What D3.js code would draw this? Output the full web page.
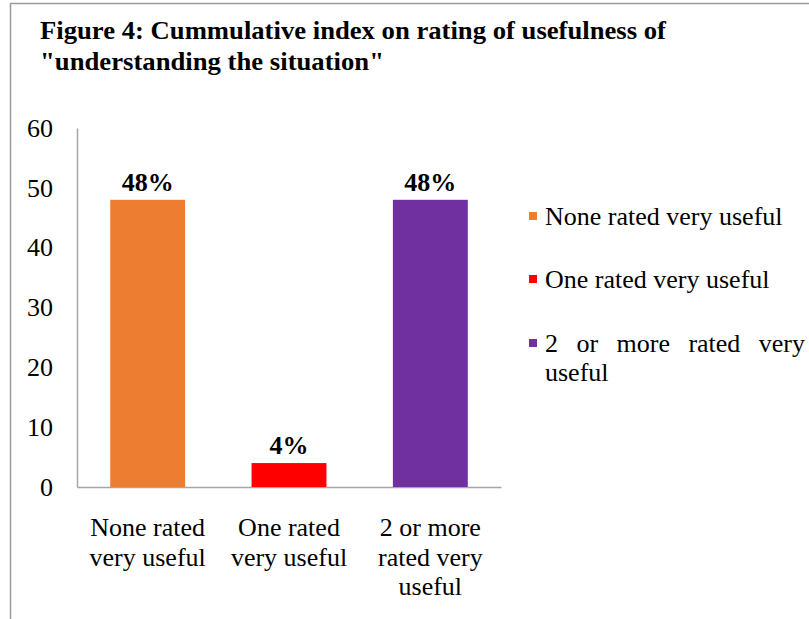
<!DOCTYPE html>
<html>
<head>
<meta charset="utf-8">
<script src="https://cdn.jsdelivr.net/npm/d3@7"></script>
<style>
  html, body { margin: 0; padding: 0; background: #fff; }
  svg { display: block; }
</style>
</head>
<body>
<svg id="chart" width="809" height="619"></svg>
<script>
// Chart data
const categories = ["None rated very useful", "One rated very useful", "2 or more rated very useful"];
const values = [48, 4, 48];
const valueLabels = ["48%", "4%", "48%"];
const axisLabelLines = [["None rated", "very useful"], ["One rated", "very useful"], ["2 or more", "rated very", "useful"]];
const colors = ["#ED7D31", "#FF0000", "#7030A0"];
const yTicks = [0, 10, 20, 30, 40, 50, 60];
const titleLines = ["Figure 4: Cummulative index on rating of usefulness of", "\"understanding the situation\""];

const svg = d3.select("#chart");
const serif = "'Liberation Serif', 'Times New Roman', serif";
const fs = 26;

// frame lines (top and left)
svg.append("line").attr("x1", 10).attr("x2", 809).attr("y1", 3.5).attr("y2", 3.5)
  .attr("stroke", "#9a9a9a").attr("stroke-width", 1.5);
svg.append("line").attr("x1", 10.5).attr("x2", 10.5).attr("y1", 3).attr("y2", 619)
  .attr("stroke", "#9a9a9a").attr("stroke-width", 1.5);

// title
const title = svg.append("g").attr("font-family", serif).attr("font-weight", "bold")
  .attr("font-size", 25).attr("fill", "#000");
const titleWidths = [626, 344];
titleLines.forEach((t, i) => {
  const el = title.append("text").attr("x", 40).attr("y", 39 + i * 31).text(t);
  el.attr("textLength", titleWidths[i]).attr("lengthAdjust", "spacingAndGlyphs");
});

// scales
const x = d3.scaleBand().domain(categories).range([77, 501]).paddingInner(0.47).paddingOuter(0.235);
const y = d3.scaleLinear().domain([0, 60]).range([487, 128]);

// y axis
const yAxis = svg.append("g").attr("transform", "translate(77,0)")
  .call(d3.axisLeft(y).tickValues(yTicks).tickSize(0).tickPadding(24).tickFormat(d3.format("d")));
yAxis.select(".domain").attr("stroke", "#a6a6a6").attr("stroke-width", 1.5);
yAxis.selectAll("text").attr("font-family", serif).attr("font-size", fs).attr("fill", "#000");

// x baseline
const xAxis = svg.append("g").attr("transform", "translate(0,487)")
  .call(d3.axisBottom(x).tickSize(0).tickFormat(""));
xAxis.select(".domain").attr("stroke", "#a6a6a6").attr("stroke-width", 1.5);

// bars
svg.append("g").selectAll("rect").data(values).join("rect")
  .attr("x", (d, i) => x(categories[i]))
  .attr("width", x.bandwidth())
  .attr("y", d => y(d))
  .attr("height", d => y(0) - y(d))
  .attr("fill", (d, i) => colors[i]);

// value labels
svg.append("g").selectAll("text").data(values).join("text")
  .attr("x", (d, i) => x(categories[i]) + x.bandwidth() / 2)
  .attr("y", d => y(d) - 9)
  .attr("text-anchor", "middle")
  .attr("font-family", serif).attr("font-weight", "bold").attr("font-size", fs)
  .text((d, i) => valueLabels[i]);

// category labels
const catG = svg.append("g").attr("font-family", serif).attr("font-size", fs).attr("text-anchor", "middle");
categories.forEach((c, i) => {
  const cx = x(c) + x.bandwidth() / 2;
  axisLabelLines[i].forEach((line, j) => {
    catG.append("text").attr("x", cx).attr("y", 536 + j * 29.5).text(line);
  });
});

// legend
const legend = svg.append("g").attr("font-family", serif).attr("font-size", fs);
const legendY = [225, 288, 352];
const legendRight = 805;
categories.forEach((c, i) => {
  legend.append("rect").attr("x", 529).attr("y", legendY[i] - 13).attr("width", 8).attr("height", 8)
    .attr("fill", colors[i]);
});
legend.append("text").attr("x", 545).attr("y", legendY[0]).text(categories[0]);
legend.append("text").attr("x", 545).attr("y", legendY[1]).text(categories[1]);
// third entry wraps and is justified on its first line
const words = ["2", "or", "more", "rated", "very"];
const wTexts = words.map(w => legend.append("text").attr("y", legendY[2]).text(w));
const widths = wTexts.map(t => t.node().getComputedTextLength());
const gap = (legendRight - 545 - d3.sum(widths)) / (words.length - 1);
let cursor = 545;
wTexts.forEach((t, k) => { t.attr("x", cursor); cursor += widths[k] + gap; });
legend.append("text").attr("x", 545).attr("y", legendY[2] + 29).text("useful");
</script>
</body>
</html>
